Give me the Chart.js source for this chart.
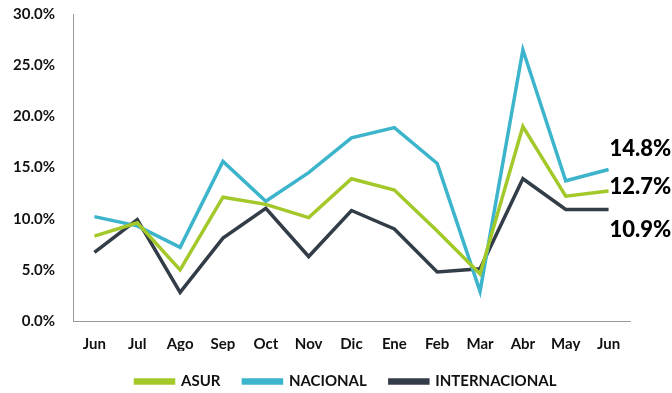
<!DOCTYPE html>
<html>
<head>
<meta charset="utf-8">
<script src="https://cdn.jsdelivr.net/npm/chart.js@4.4.0/dist/chart.umd.min.js"></script>
<style>
  html, body { margin: 0; padding: 0; background: #fff; }
  #wrap { width: 672px; height: 393px; }
</style>
</head>
<body>
<div id="wrap"><canvas id="chart"></canvas></div>
<script>
const months = ['Jun', 'Jul', 'Ago', 'Sep', 'Oct', 'Nov', 'Dic', 'Ene', 'Feb', 'Mar', 'Abr', 'May', 'Jun'];

const asur = [8.3, 9.6, 5.0, 12.1, 11.4, 10.1, 13.9, 12.8, 8.8, 4.6, 19.0, 12.2, 12.7];
const nacional = [10.2, 9.3, 7.2, 15.6, 11.7, 14.5, 17.9, 18.9, 15.4, 2.9, 26.5, 13.7, 14.8];
const internacional = [6.7, 9.9, 2.8, 8.1, 11.0, 6.3, 10.8, 9.0, 4.8, 5.1, 13.9, 10.9, 10.9];

const FONT = 'Lato, "Open Sans", sans-serif';

// value tags next to the last point of each series
const lastLabels = {
    id: 'lastLabels',
    afterLayout(chart) {
        // centre the legend on the whole canvas, not just the padded area
        chart.legend.left += 31;
        chart.legend.right += 31;
    },
    afterDatasetsDraw(chart) {
        const ctx = chart.ctx;
        const offsets = [-4, -21, 20];
        ctx.save();
        ctx.font = '900 22px ' + FONT;
        ctx.fillStyle = '#000';
        ctx.textBaseline = 'middle';
        ctx.textAlign = 'left';
        chart.data.datasets.forEach((ds, i) => {
            const meta = chart.getDatasetMeta(i);
            const pt = meta.data[meta.data.length - 1];
            const v = ds.data[ds.data.length - 1];
            ctx.fillText(v.toFixed(1) + '%', pt.x + 1, pt.y + offsets[i]);
        });
        ctx.restore();
    }
};

const tickFont = { family: FONT, size: 15, weight: 'bold' };

const ctx = document.getElementById('chart');
new Chart(ctx, {
    type: 'line',
    data: {
        labels: months,
        datasets: [
            { label: 'ASUR', data: asur, borderColor: '#a3c829', backgroundColor: '#a3c829' },
            { label: 'NACIONAL', data: nacional, borderColor: '#3cb4cb', backgroundColor: '#3cb4cb' },
            { label: 'INTERNACIONAL', data: internacional, borderColor: '#333d48', backgroundColor: '#333d48' }
        ]
    },
    options: {
        responsive: true,
        maintainAspectRatio: false,
        animation: false,
        elements: {
            line: { borderWidth: 3.5, tension: 0 },
            point: { radius: 0 }
        },
        layout: { padding: { top: 14, left: 0, right: 42, bottom: -6 } },
        scales: {
            x: {
                offset: true,
                afterFit: scale => { scale.height = 30; },
                grid: { display: false, drawTicks: false },
                border: { color: '#999', width: 1 },
                ticks: { color: '#111', font: tickFont, padding: 14, maxRotation: 0 }
            },
            y: {
                min: 0,
                max: 30,
                afterFit: scale => {
                    scale.width = 73;
                    scale.paddingTop = 0;
                    scale.paddingBottom = 0;
                },
                grid: { display: false, drawTicks: false },
                border: { color: '#999', width: 1 },
                ticks: {
                    stepSize: 5,
                    color: '#111',
                    padding: 18,
                    font: tickFont,
                    callback: v => v.toFixed(1) + '%'
                }
            }
        },
        plugins: {
            legend: {
                position: 'bottom',
                labels: {
                    boxWidth: 38,
                    boxHeight: 3,
                    padding: 23,
                    color: '#111',
                    font: tickFont
                }
            },
            tooltip: { enabled: false }
        }
    },
    plugins: [lastLabels]
});
</script>
</body>
</html>
